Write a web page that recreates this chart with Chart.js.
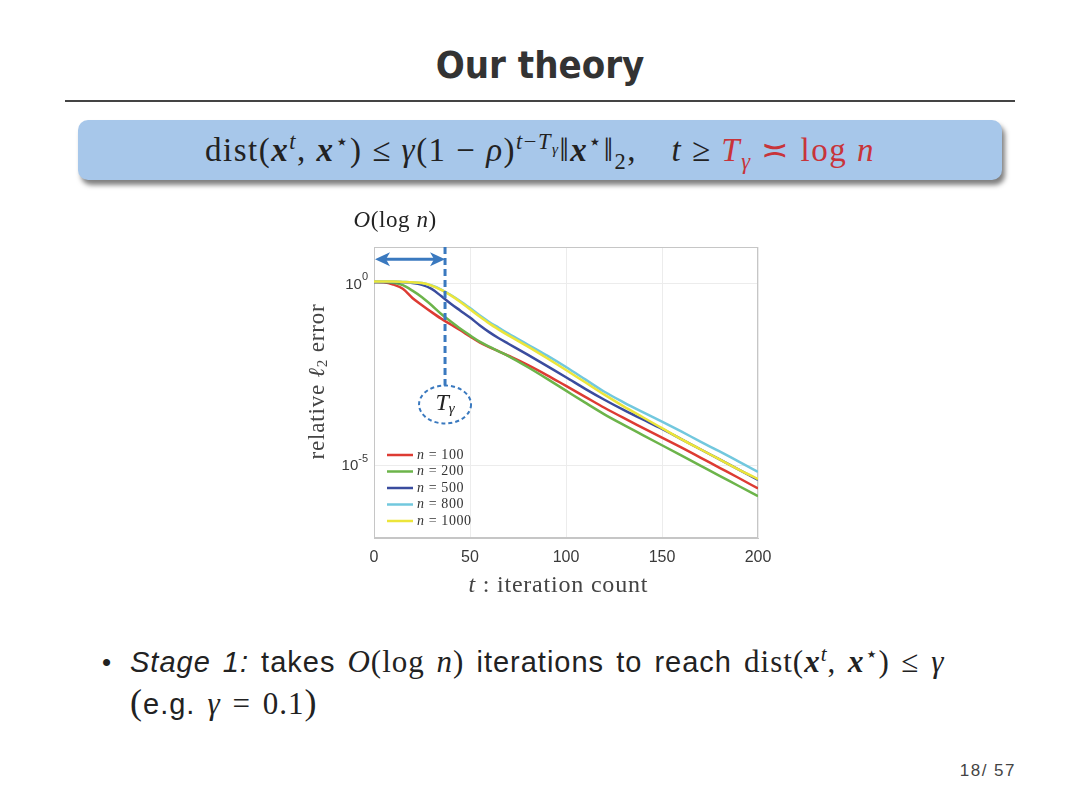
<!DOCTYPE html>
<html>
<head>
<meta charset="utf-8">
<script src="https://cdn.jsdelivr.net/npm/chart.js@4.4.1/dist/chart.umd.min.js"></script>
<style>
body { margin: 0; background: #fff; }
#page { position: relative; width: 1080px; height: 810px; overflow: hidden; background: #fff; }
.title { position: absolute; left: 0; width: 1080px; top: 43px; text-align: center;
  font-family: "DejaVu Sans Condensed", "DejaVu Sans", sans-serif; font-stretch: condensed;
  font-weight: bold; font-size: 38px; color: #333; }
.rule { position: absolute; left: 65px; top: 100px; width: 950px; height: 2px; background: #444; }
.box { position: absolute; left: 78px; top: 120px; width: 924px; height: 60px; background: #a7c7ea;
  border-radius: 10px; box-shadow: 3px 5px 5px rgba(0,0,0,0.5); }
.formula { position: absolute; left: 0; width: 1080px; top: 130px; text-align: center;
  font-family: "Liberation Serif", "DejaVu Serif", serif; font-size: 33px; letter-spacing: 1.5px;
  color: #222; white-space: nowrap; }
.formula sup, .formula sub, .bullet sup { font-size: 0.68em; line-height: 0; }
.red { color: #c8343a; }
.bullet { position: absolute; left: 130px; top: 642px; font-family: "Liberation Sans", sans-serif;
  font-size: 29px; letter-spacing: 1px; word-spacing: 3px; line-height: 40px; color: #222; white-space: nowrap; }
.dot { position: absolute; left: -28px; top: 0; font-size: 26px; }
.m { font-family: "Liberation Serif", serif; font-size: 31px; }
.big { font-size: 36px; }
.pnum { position: absolute; left: 900px; width: 116px; top: 761px; text-align: right;
  font-family: "Liberation Sans", sans-serif; font-size: 17px; letter-spacing: 1.5px; color: #444; }
#errorChart { position: absolute; left: 280px; top: 200px; }
</style>
</head>
<body>
<div id="page">
  <div class="title">Our theory</div>
  <div class="rule"></div>
  <div class="box"></div>
  <div class="formula">dist(<b><i>x</i></b><sup><i>t</i></sup>, <b><i>x</i></b><sup>⋆</sup>) ≤ <i>γ</i>(1 − <i>ρ</i>)<sup><i>t</i>−<i>T</i><sub><i>γ</i></sub></sup>‖<b><i>x</i></b><sup>⋆</sup>‖<sub>2</sub>,&emsp;<i>t</i> ≥ <span class="red"><i>T</i><sub><i>γ</i></sub> ≍ log <i>n</i></span></div>
  <canvas id="errorChart" width="520" height="410"></canvas>
  <div class="bullet"><span class="dot">•</span><i>Stage 1:</i> takes <span class="m"><i>O</i>(log <i>n</i>)</span> iterations to reach <span class="m">dist(<b><i>x</i></b><sup><i>t</i></sup>, <b><i>x</i></b><sup>⋆</sup>) ≤ <i>γ</i></span><br><span class="m big">(</span>e.g. <span class="m"><i>γ</i> = 0.1</span><span class="m big">)</span></div>
  <div class="pnum">18/ 57</div>
</div>
<script>
// iteration count t
const iterations = [0, 5, 10, 15, 20, 25, 30, 35, 40, 45, 50, 55, 60, 65, 70, 80, 90, 100, 110, 120, 130, 140, 150, 160, 170, 180, 190, 200];

// log10 of relative l2 error
const errN100 = [0.04, 0.03, -0.03, -0.15, -0.40, -0.60, -0.79, -0.97, -1.13, -1.29, -1.46, -1.62, -1.75, -1.87, -1.99, -2.24, -2.52, -2.82, -3.12, -3.42, -3.70, -3.97, -4.24, -4.51, -4.79, -5.07, -5.35, -5.64];
const errN200 = [0.04, 0.04, 0.02, -0.05, -0.20, -0.38, -0.60, -0.84, -1.05, -1.25, -1.43, -1.60, -1.74, -1.87, -2.00, -2.30, -2.62, -2.95, -3.28, -3.60, -3.89, -4.17, -4.45, -4.73, -5.01, -5.29, -5.57, -5.85];
const errN500 = [0.04, 0.04, 0.04, 0.03, 0.01, -0.04, -0.15, -0.35, -0.56, -0.75, -0.94, -1.15, -1.34, -1.51, -1.66, -1.96, -2.27, -2.58, -2.90, -3.20, -3.48, -3.74, -4.00, -4.28, -4.56, -4.84, -5.12, -5.40];
const errN800 = [0.05, 0.05, 0.05, 0.04, 0.03, 0.01, -0.06, -0.17, -0.32, -0.49, -0.68, -0.88, -1.06, -1.22, -1.38, -1.68, -1.98, -2.30, -2.64, -2.98, -3.27, -3.54, -3.80, -4.07, -4.35, -4.62, -4.90, -5.18];
const errN1000 = [0.05, 0.05, 0.05, 0.04, 0.03, 0.01, -0.06, -0.18, -0.33, -0.51, -0.71, -0.91, -1.10, -1.27, -1.43, -1.73, -2.05, -2.38, -2.72, -3.06, -3.38, -3.68, -3.98, -4.28, -4.56, -4.84, -5.12, -5.38];

const seriesLabels = ['100', '200', '500', '800', '1000'];
const seriesValues = [errN100, errN200, errN500, errN800, errN1000];
const lineColors = ['#dd3b33', '#6cb44a', '#3a4c9e', '#72c8de', '#ece53a'];

const xTicks = [0, 50, 100, 150, 200];
const yTicks = [0, -5];       // exponents shown as 10^k

// T_gamma marker, arrow and bubble levels (data units)
const tGamma = 37;
const arrowLevel = 0.66;
const bubbleLevel = -3.33;

const blueMark = '#3a79bf';
const serif = '"Liberation Serif", "DejaVu Serif", serif';

// draw a list of text runs, centred at cx
function drawRuns(ctx, runs, cx, cy, align) {
    let total = 0;
    runs.forEach(r => { ctx.font = r.font; r.w = ctx.measureText(r.text).width; total += r.w; });
    let x = align === 'left' ? cx : (align === 'right' ? cx - total : cx - total / 2);
    ctx.textBaseline = 'middle';
    ctx.textAlign = 'left';
    runs.forEach(r => {
        ctx.font = r.font;
        ctx.fillText(r.text, x, cy + (r.dy || 0));
        x += r.w;
    });
}

const figureExtras = {
    id: 'figureExtras',
    beforeDatasetsDraw(chart) {
        // box around plot
        const {ctx, chartArea: a} = chart;
        ctx.save();
        ctx.strokeStyle = '#c6c6c6';
        ctx.lineWidth = 1;
        ctx.strokeRect(a.left + 0.5, a.top + 0.5, a.right - a.left - 1, a.bottom - a.top - 1);
        ctx.restore();
    },
    afterDatasetsDraw(chart) {
        const {ctx, chartArea: a, scales: {x, y}} = chart;
        ctx.save();

        // y tick labels 10^k
        ctx.fillStyle = '#3a3a3a';
        yTicks.forEach(k => {
            const py = y.getPixelForValue(k);
            drawRuns(ctx, [
                {text: '10', font: '15px "Liberation Sans", Arial, sans-serif', dy: 1},
                {text: String(k), font: '11px "Liberation Sans", Arial, sans-serif', dy: -6}
            ], a.left - 6, py, 'right');
        });

        // axis titles
        ctx.fillStyle = '#444';
        ctx.letterSpacing = '0.8px';
        drawRuns(ctx, [
            {text: 't', font: 'italic 24px ' + serif},
            {text: ' : iteration count', font: '24px ' + serif}
        ], x.getPixelForValue(96), a.bottom + 48, 'center');

        ctx.save();
        ctx.translate(a.left - 56, (a.top + a.bottom) / 2 - 11);
        ctx.rotate(-Math.PI / 2);
        drawRuns(ctx, [
            {text: 'relative ', font: '23px ' + serif},
            {text: 'ℓ', font: 'italic 23px ' + serif},
            {text: '2', font: '15px ' + serif, dy: 5},
            {text: ' error', font: '23px ' + serif}
        ], 0, 0, 'center');
        ctx.restore();

        // legend inside the axes, lower left
        ctx.letterSpacing = '0.6px';
        chart.data.datasets.forEach((ds, i) => {
            const ly = a.bottom - 83 + i * 16.5;
            ctx.strokeStyle = ds.borderColor;
            ctx.lineWidth = 2.5;
            ctx.beginPath();
            ctx.moveTo(a.left + 13, ly);
            ctx.lineTo(a.left + 39, ly);
            ctx.stroke();
            ctx.fillStyle = '#333';
            drawRuns(ctx, [
                {text: 'n', font: 'italic 14px ' + serif},
                {text: ' = ' + seriesLabels[i], font: '14px ' + serif}
            ], a.left + 43, ly, 'left');
        });
        ctx.letterSpacing = '0px';

        // T_gamma dashed marker
        const gx = x.getPixelForValue(tGamma);
        const by = y.getPixelForValue(bubbleLevel);
        const rx = 26, ry = 19;
        ctx.strokeStyle = blueMark;
        ctx.lineWidth = 3;
        ctx.setLineDash([7, 4]);
        ctx.beginPath();
        ctx.moveTo(gx, a.top);
        ctx.lineTo(gx, by - ry);
        ctx.stroke();

        ctx.lineWidth = 2;
        ctx.setLineDash([4, 3]);
        ctx.beginPath();
        ctx.ellipse(gx, by, rx, ry, 0, 0, Math.PI * 2);
        ctx.stroke();
        ctx.setLineDash([]);

        ctx.fillStyle = '#222';
        drawRuns(ctx, [
            {text: 'T', font: 'italic 24px ' + serif},
            {text: 'γ', font: 'italic 15px ' + serif, dy: 6}
        ], gx, by - 1, 'center');

        // double arrow O(log n)
        const ay = y.getPixelForValue(arrowLevel);
        const x0 = x.getPixelForValue(0) + 1;
        ctx.strokeStyle = blueMark;
        ctx.fillStyle = blueMark;
        ctx.lineWidth = 3;
        ctx.beginPath();
        ctx.moveTo(x0 + 8, ay);
        ctx.lineTo(gx - 8, ay);
        ctx.stroke();
        [[x0, 1], [gx, -1]].forEach(([tip, dir]) => {
            ctx.beginPath();
            ctx.moveTo(tip, ay);
            ctx.lineTo(tip + dir * 15, ay - 7);
            ctx.lineTo(tip + dir * 11, ay);
            ctx.lineTo(tip + dir * 15, ay + 7);
            ctx.closePath();
            ctx.fill();
        });

        ctx.fillStyle = '#222';
        ctx.letterSpacing = '0.6px';
        drawRuns(ctx, [
            {text: 'O', font: 'italic 23px ' + serif},
            {text: '(log ', font: '23px ' + serif},
            {text: 'n', font: 'italic 23px ' + serif},
            {text: ')', font: '23px ' + serif}
        ], x.getPixelForValue(11), a.top - 26, 'center');

        ctx.restore();
    }
};

const datasets = seriesValues.map((vals, i) => ({
    label: 'n = ' + seriesLabels[i],
    data: iterations.map((t, j) => ({x: t, y: vals[j]})),
    borderColor: lineColors[i],
    borderWidth: 2.5,
    pointRadius: 0,
    cubicInterpolationMode: 'monotone',
    fill: false,
    order: seriesValues.length - 1 - i
}));

const ctx = document.getElementById('errorChart').getContext('2d');
new Chart(ctx, {
    type: 'line',
    data: { datasets },
    options: {
        responsive: false,
        animation: false,
        layout: { padding: { left: 44, right: 42, top: 47, bottom: 42 } },
        plugins: { legend: { display: false }, tooltip: { enabled: false } },
        scales: {
            x: {
                type: 'linear', min: 0, max: 200,
                afterBuildTicks: s => { s.ticks = xTicks.map(v => ({value: v})); },
                afterFit: s => { s.height = 30; },
                ticks: { font: { family: '"Liberation Sans", Arial, sans-serif', size: 16 }, color: '#3a3a3a', padding: 10 },
                grid: { color: '#ececec', drawTicks: false },
                border: { color: '#c6c6c6' }
            },
            y: {
                type: 'linear', min: -7, max: 1,
                afterBuildTicks: s => { s.ticks = yTicks.map(v => ({value: v})); },
                afterFit: s => { s.width = 50; },
                ticks: { callback: () => '' },
                grid: { color: '#ececec', drawTicks: false },
                border: { color: '#c6c6c6' }
            }
        }
    },
    plugins: [figureExtras]
});
</script>
</body>
</html>
